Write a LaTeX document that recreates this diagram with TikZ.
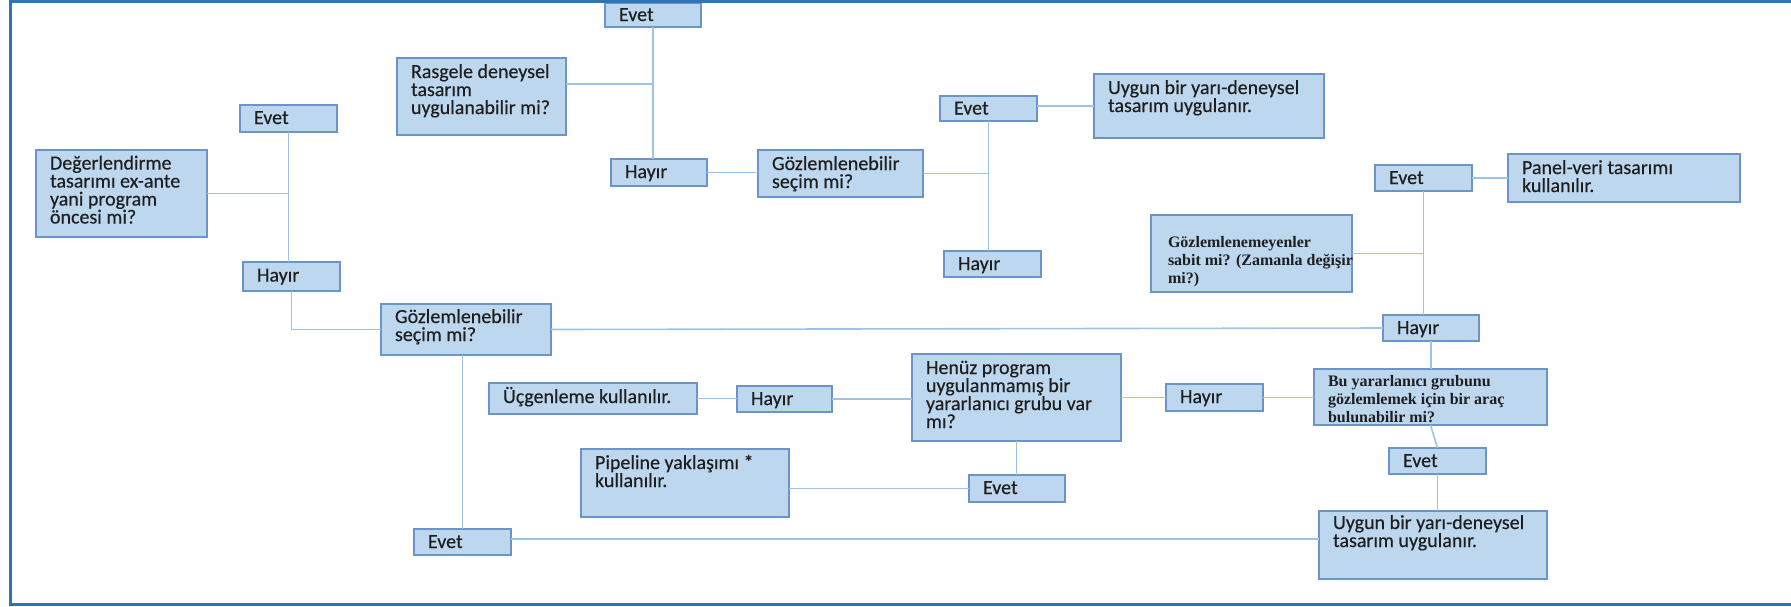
\documentclass[tikz,border=0pt]{standalone}
\usepackage{fontspec}
\setmainfont{Carlito}[FakeBold=0.3]
\newfontfamily\tnr{Liberation Serif}
\definecolor{boxfill}{HTML}{BDD7EE}
\definecolor{boxline}{RGB}{108,148,196}
\definecolor{conn}{RGB}{157,195,230}
\definecolor{framec}{RGB}{46,117,182}
\definecolor{txt}{HTML}{1E1E1E}
\newcommand\calfont{\fontsize{10}{9}\selectfont\color{txt}}
\newcommand\serfont{\tnr\bfseries\fontsize{8}{9}\selectfont\color{txt}}
\tikzset{
 box/.style={draw=boxline, fill=boxfill, line width=0.7pt, anchor=north west, inner xsep=7pt, inner ysep=0pt, outer sep=0pt},
 link/.style={draw=conn, line width=0.8pt},
 framest/.style={draw=framec, line width=1.5pt},
}
\makeatletter
% box: [font]{name}{x1}{y1}{x2}{y2}{first baseline below top, px}{lines separated by \\}
\newcommand\bx[8][\calfont]{%
 \pgfmathsetlengthmacro\bxw{(#5-#3)*0.5pt-14pt}%
 \pgfmathsetlengthmacro\bxh{(#6-#4)*0.5pt}%
 \pgfmathsetlengthmacro\bxb{#7*0.5pt-9pt}%
 \node[box] (#2) at (#3,#4) {\makebox[\bxw][l]{\vbox to \bxh{#1\baselineskip=9pt\lineskiplimit=-\maxdimen\kern\bxb\bx@lines#8\\\@nil\vss}}};}
\def\bx@lines#1\\#2\@nil{\hbox{\vrule height9pt depth0pt width0pt#1}\ifx\relax#2\relax\else\bx@lines#2\@nil\fi}
\makeatother
\begin{document}
\begin{tikzpicture}[x=0.5pt,y=-0.5pt]
\useasboundingbox (0,0) rectangle (1791,606);
% boxes
\bx{evA}{605}{3}{701}{27}{18}{Evet}
\bx{ras}{397}{58}{566}{135}{20}{Rasgele deneysel\\tasarım\\uygulanabilir mi?}
\bx{evB}{240}{105}{337}{132}{19}{Evet}
\bx{deg}{36}{150}{207}{237}{19.5}{Değerlendirme\\tasarımı ex-ante\\yani program\\öncesi mi?}
\bx{hyA}{243}{262}{340}{291}{19.5}{Hayır}
\bx{hyB}{611}{159}{707}{186}{19}{Hayır}
\bx{gozA}{758}{150}{923}{197}{20}{Gözlemlenebilir\\seçim mi?}
\bx{evC}{940}{96}{1037}{121}{18.5}{Evet}
\bx{uygA}{1094}{74}{1324}{138}{20}{Uygun bir yarı-deneysel\\tasarım uygulanır.}
\bx{hyC}{944}{251}{1041}{277}{19}{Hayır}
\bx{evD}{1375}{165}{1472}{191}{19}{Evet}
\bx{panel}{1508}{154}{1740}{202}{20}{Panel-veri tasarımı\\kullanılır.}
\bx[\serfont]{gnm}{1151}{215}{1352}{292}{32}{\kern1.5pt Gözlemlenemeyenler\\\kern1.5pt sabit mi? (Zamanla değişir\\\kern1.5pt mi?)}
\bx{hyD}{1383}{315}{1479}{341}{19}{Hayır}
\bx{gozB}{381}{304}{551}{355}{19}{Gözlemlenebilir\\seçim mi?}
\bx{ucg}{489}{383}{697}{414}{20}{Üçgenleme kullanılır.}
\bx{hyE}{737}{386}{832}{412}{19}{Hayır}
\bx{henuz}{912}{354}{1121}{441}{20}{Henüz program\\uygulanmamış bir\\yararlanıcı grubu var\\mı?}
\bx{hyF}{1166}{384}{1263}{411}{19}{Hayır}
\bx[\serfont]{bu}{1314}{369}{1547}{425}{17.5}{Bu yararlanıcı grubunu\\gözlemlemek için bir araç\\bulunabilir mi?}
\bx{pipe}{581}{449}{789}{517}{20}{Pipeline yaklaşımı *\\kullanılır.}
\bx{evE}{969}{475}{1065}{502}{19}{Evet}
\bx{evF}{1389}{448}{1486}{474}{19}{Evet}
\bx{uygB}{1319}{511}{1547}{579}{18}{Uygun bir yarı-deneysel\\tasarım uygulanır.}
\bx{evG}{414}{529}{511}{555}{19}{Evet}
% connectors
\draw[link] (deg.east) -- (deg.east -| evB.south);
\draw[link] (evB.south) -- (evB.south |- hyA.north);
\coordinate (rasE) at ([yshift=6.25pt]ras.east);
\draw[link] (rasE) -- (rasE -| evA.south);
\draw[link] (evA.south) -- (evA.south |- hyB.north);
\draw[link] (hyB.east) -- (hyB.east -| gozA.west);
\draw[link] (gozA.east) -- (gozA.east -| evC.south);
\draw[link] (evC.south) -- (evC.south |- hyC.north);
\coordinate (evCE) at ([yshift=1.25pt]evC.east);
\draw[link] (evCE) -- (evCE -| uygA.west);
\draw[link] (evD.east) -- (evD.east -| panel.west);
\draw[link] (gnm.east) -- (gnm.east -| evD.south);
\draw[link] (evD.south) -- (evD.south |- hyD.north);
\draw[link] (hyA.south) |- (gozB.west);
\draw[link] (gozB.east) -- (hyD.west);
\draw[link] (hyD.south) -- (hyD.south |- bu.north);
\draw[link] (evG.north |- gozB.south) -- (evG.north);
\coordinate (evGE) at ([yshift=1.5pt]evG.east);
\draw[link] (evGE) -- (evGE -| uygB.west);
\draw[link] (ucg.east) -- (ucg.east -| hyE.west);
\draw[link] (hyE.east) -- (hyE.east -| henuz.west);
\draw[link] (henuz.east) -- (henuz.east -| hyF.west);
\draw[link] (hyF.east) -- (hyF.east -| bu.west);
\draw[link] (henuz.south) -- (henuz.south |- evE.north);
\draw[link] (evE.west) -- (evE.west -| pipe.east);
\draw[link] (bu.south) -- (evF.north);
\draw[link] (evF.south) -- (evF.south |- uygB.north);
% frame
\draw[framest] (1795,1) -- (10,1) -- (10,604.5) -- (1795,604.5);
\end{tikzpicture}
\end{document}
